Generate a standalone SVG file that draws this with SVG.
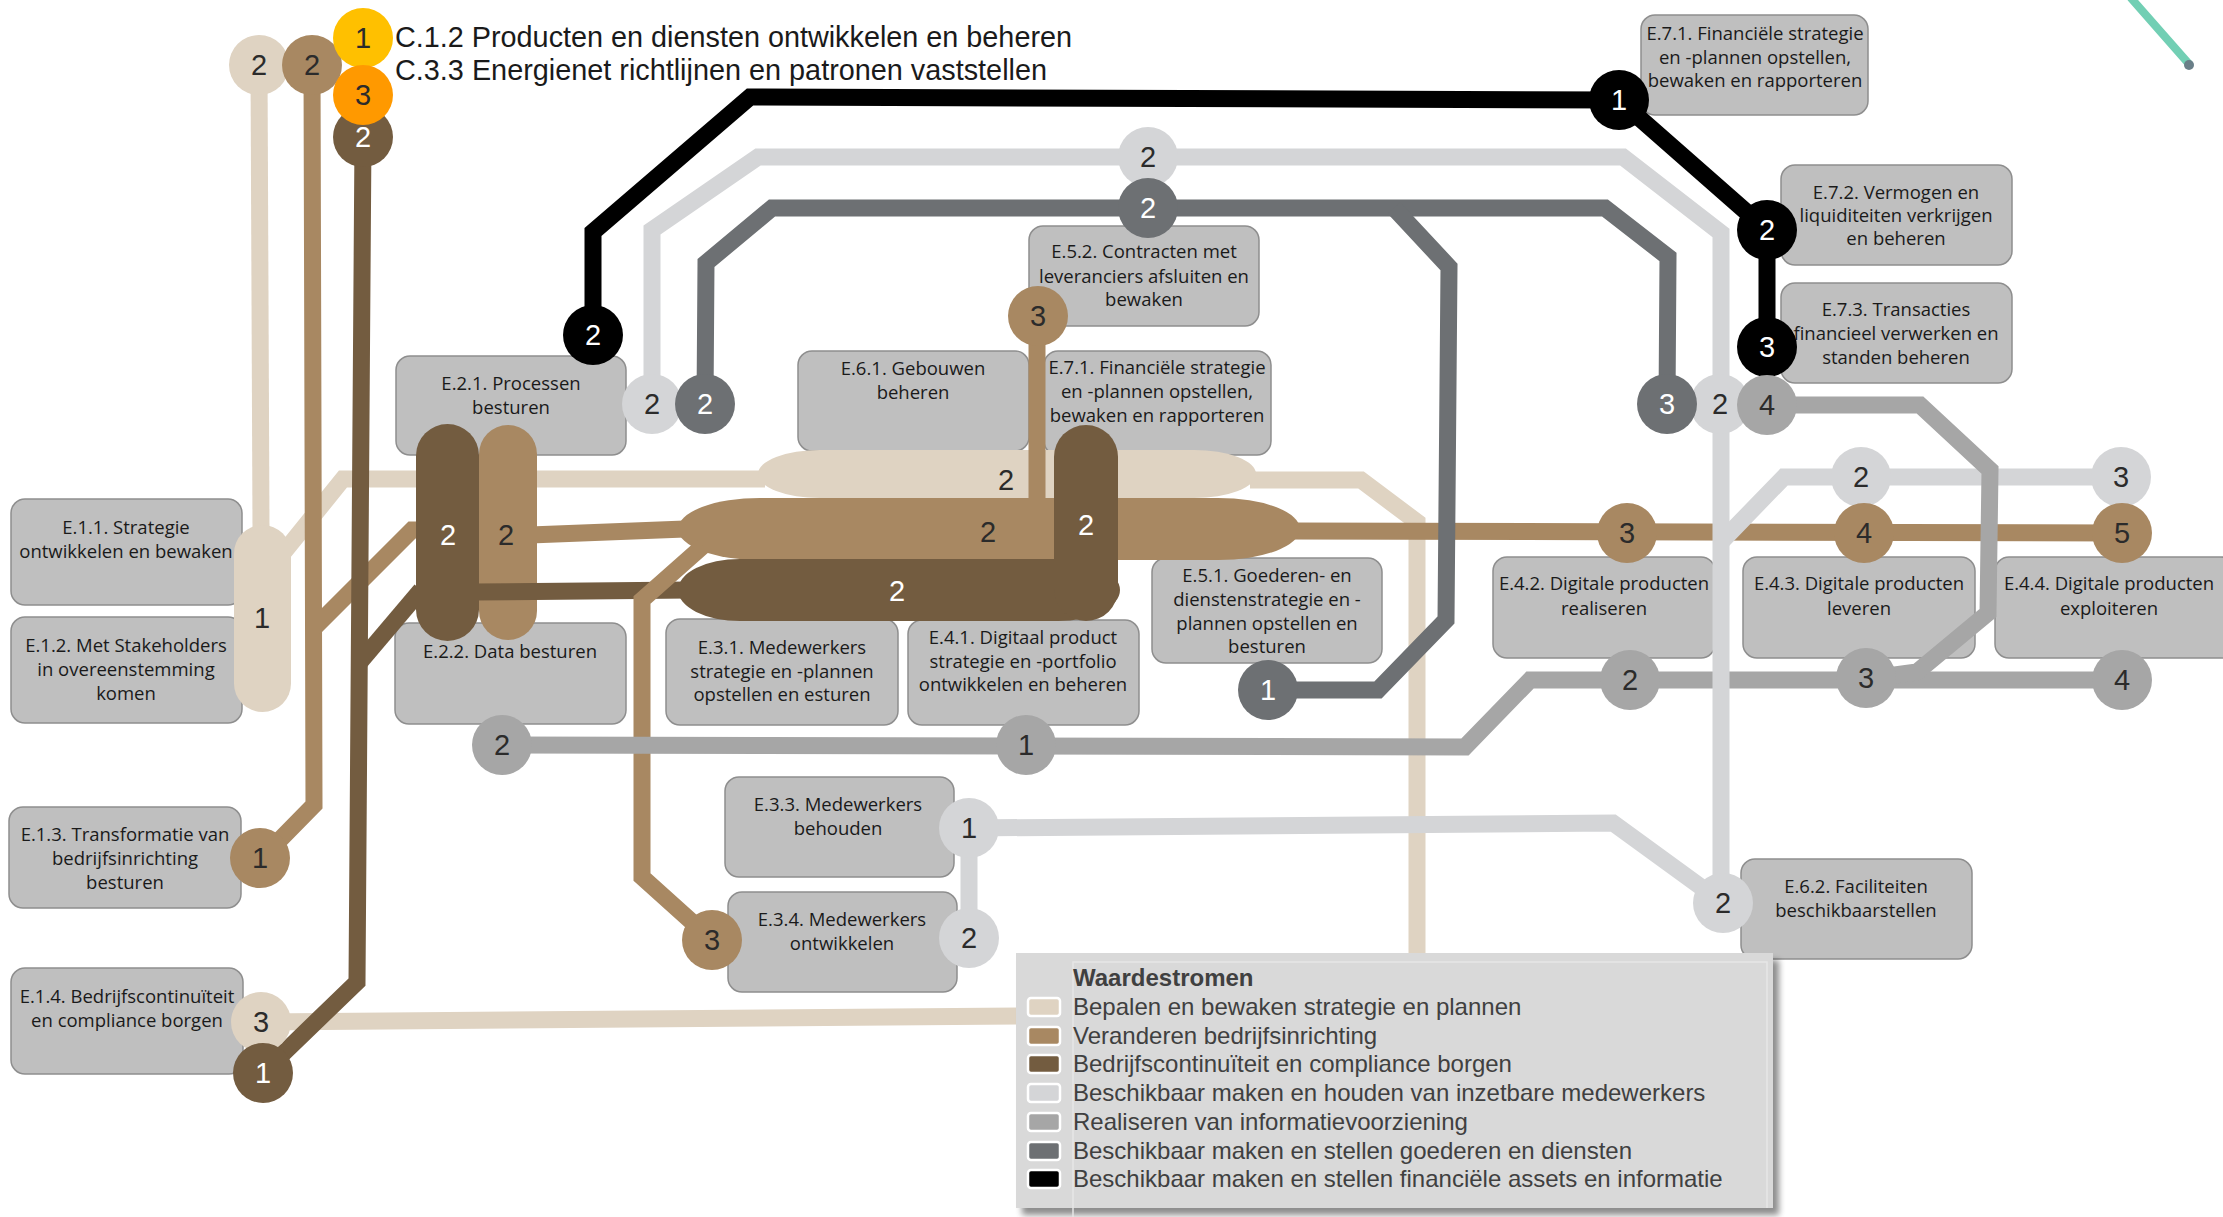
<svg xmlns="http://www.w3.org/2000/svg" width="2223" height="1217" viewBox="0 0 2223 1217">
  <style>
    .box { fill:#BFBFBF; stroke:#8E8E8E; stroke-width:1.5; }
    .lbl { font-family:"Open Sans","Liberation Sans",sans-serif; font-size:18.5px; fill:#1A1A1A; text-anchor:middle; }
    .ln { fill:none; stroke-width:17; stroke-linejoin:miter; stroke-miterlimit:4; stroke-linecap:butt; }
    .beige { stroke:#DFD3C2; } .tan { stroke:#A88862; } .brown { stroke:#735C40; }
    .lgray { stroke:#D4D5D7; } .mgray { stroke:#A6A6A6; } .dgray { stroke:#6D7073; } .black { stroke:#000000; }
    .f-beige { fill:#DFD3C2; } .f-tan { fill:#A88862; } .f-brown { fill:#735C40; }
    .f-lgray { fill:#D4D5D7; } .f-mgray { fill:#A6A6A6; } .f-dgray { fill:#6D7073; } .f-black { fill:#000000; }
    .f-yellow { fill:#FFC000; } .f-orange { fill:#FF9900; }
    .num { font-family:"Liberation Sans",Arial,sans-serif; font-size:29px; text-anchor:middle; fill:#2B2B2B; }
    .num.w { fill:#FFFFFF; }
    .title { font-family:"Liberation Sans",Arial,sans-serif; font-size:29px; fill:#1A1A1A; }
    .leg { font-family:"Liberation Sans",Arial,sans-serif; font-size:24px; fill:#404040; }
    .sw { stroke:#FFFFFF; stroke-width:2.5; }
  </style>
  <defs>
    <filter id="shadow" x="-5%" y="-5%" width="115%" height="120%">
      <feGaussianBlur in="SourceAlpha" stdDeviation="3"/>
      <feOffset dx="6" dy="7" result="b"/>
      <feComponentTransfer><feFuncA type="linear" slope="0.45"/></feComponentTransfer>
      <feMerge><feMergeNode/><feMergeNode in="SourceGraphic"/></feMerge>
    </filter>
  </defs>

  <rect width="2223" height="1217" fill="#FFFFFF"/>

  <!-- heading -->
  <g id="heading">
    <text class="title" x="395" y="47" textLength="677" lengthAdjust="spacingAndGlyphs">C.1.2 Producten en diensten ontwikkelen en beheren</text>
    <text class="title" x="395" y="80" textLength="652" lengthAdjust="spacingAndGlyphs">C.3.3 Energienet richtlijnen en patronen vaststellen</text>
  </g>

  <!-- teal stroke in the corner -->
  <g id="corner-mark">
    <line x1="2131" y1="-2" x2="2189" y2="64" stroke="#72CFB4" stroke-width="8" stroke-linecap="round"/>
    <circle cx="2189" cy="65" r="5" fill="#6A7F88"/>
  </g>

  <!-- process boxes -->
  <g id="E11"><rect class="box" x="11" y="499" width="231" height="106" rx="14"/>
    <text class="lbl" x="126" y="534">E.1.1. Strategie</text><text class="lbl" x="126" y="558">ontwikkelen en bewaken</text></g>
  <g id="E12"><rect class="box" x="11" y="617" width="231" height="106" rx="14"/>
    <text class="lbl" x="126" y="652">E.1.2. Met Stakeholders</text><text class="lbl" x="126" y="676">in overeenstemming</text><text class="lbl" x="126" y="700">komen</text></g>
  <g id="E13"><rect class="box" x="9" y="807" width="232" height="101" rx="14"/>
    <text class="lbl" x="125" y="841">E.1.3. Transformatie van</text><text class="lbl" x="125" y="865">bedrijfsinrichting</text><text class="lbl" x="125" y="889">besturen</text></g>
  <g id="E14"><rect class="box" x="11" y="968" width="232" height="106" rx="14"/>
    <text class="lbl" x="127" y="1003">E.1.4. Bedrijfscontinuïteit</text><text class="lbl" x="127" y="1027">en compliance borgen</text></g>
  <g id="E21"><rect class="box" x="396" y="356" width="230" height="99" rx="14"/>
    <text class="lbl" x="511" y="390">E.2.1. Processen</text><text class="lbl" x="511" y="414">besturen</text></g>
  <g id="E22"><rect class="box" x="395" y="623" width="231" height="101" rx="14"/>
    <text class="lbl" x="510" y="658">E.2.2. Data besturen</text></g>
  <g id="E31"><rect class="box" x="666" y="619" width="232" height="106" rx="14"/>
    <text class="lbl" x="782" y="654">E.3.1. Medewerkers</text><text class="lbl" x="782" y="678">strategie en -plannen</text><text class="lbl" x="782" y="701">opstellen en esturen</text></g>
  <g id="E41"><rect class="box" x="908" y="620" width="231" height="105" rx="14"/>
    <text class="lbl" x="1023" y="644">E.4.1. Digitaal product</text><text class="lbl" x="1023" y="668">strategie en -portfolio</text><text class="lbl" x="1023" y="691">ontwikkelen en beheren</text></g>
  <g id="E33"><rect class="box" x="725" y="777" width="229" height="100" rx="14"/>
    <text class="lbl" x="838" y="811">E.3.3. Medewerkers</text><text class="lbl" x="838" y="835">behouden</text></g>
  <g id="E34"><rect class="box" x="728" y="892" width="229" height="100" rx="14"/>
    <text class="lbl" x="842" y="926">E.3.4. Medewerkers</text><text class="lbl" x="842" y="950">ontwikkelen</text></g>
  <g id="E51"><rect class="box" x="1152" y="558" width="230" height="105" rx="14"/>
    <text class="lbl" x="1267" y="582">E.5.1. Goederen- en</text><text class="lbl" x="1267" y="606">dienstenstrategie en -</text><text class="lbl" x="1267" y="630">plannen opstellen en</text><text class="lbl" x="1267" y="653">besturen</text></g>
  <g id="E52"><rect class="box" x="1029" y="226" width="230" height="100" rx="14"/>
    <text class="lbl" x="1144" y="258">E.5.2. Contracten met</text><text class="lbl" x="1144" y="283">leveranciers afsluiten en</text><text class="lbl" x="1144" y="306">bewaken</text></g>
  <g id="E61"><rect class="box" x="798" y="351" width="231" height="100" rx="14"/>
    <text class="lbl" x="913" y="375">E.6.1. Gebouwen</text><text class="lbl" x="913" y="399">beheren</text></g>
  <g id="E71b"><rect class="box" x="1044" y="351" width="227" height="104" rx="14"/>
    <text class="lbl" x="1157" y="374">E.7.1. Financiële strategie</text><text class="lbl" x="1157" y="398">en -plannen opstellen,</text><text class="lbl" x="1157" y="422">bewaken en rapporteren</text></g>
  <g id="E71"><rect class="box" x="1641" y="15" width="227" height="100" rx="14"/>
    <text class="lbl" x="1755" y="40">E.7.1. Financiële strategie</text><text class="lbl" x="1755" y="64">en -plannen opstellen,</text><text class="lbl" x="1755" y="87">bewaken en rapporteren</text></g>
  <g id="E72"><rect class="box" x="1781" y="165" width="231" height="100" rx="14"/>
    <text class="lbl" x="1896" y="199">E.7.2. Vermogen en</text><text class="lbl" x="1896" y="222">liquiditeiten verkrijgen</text><text class="lbl" x="1896" y="245">en beheren</text></g>
  <g id="E73"><rect class="box" x="1781" y="283" width="231" height="100" rx="14"/>
    <text class="lbl" x="1896" y="316">E.7.3. Transacties</text><text class="lbl" x="1896" y="340">financieel verwerken en</text><text class="lbl" x="1896" y="364">standen beheren</text></g>
  <g id="E42"><rect class="box" x="1493" y="557" width="222" height="101" rx="14"/>
    <text class="lbl" x="1604" y="590">E.4.2. Digitale producten</text><text class="lbl" x="1604" y="615">realiseren</text></g>
  <g id="E43"><rect class="box" x="1743" y="557" width="232" height="101" rx="14"/>
    <text class="lbl" x="1859" y="590">E.4.3. Digitale producten</text><text class="lbl" x="1859" y="615">leveren</text></g>
  <g id="E44"><rect class="box" x="1995" y="557" width="240" height="101" rx="14"/>
    <text class="lbl" x="2109" y="590">E.4.4. Digitale producten</text><text class="lbl" x="2109" y="615">exploiteren</text></g>
  <g id="E62"><rect class="box" x="1741" y="859" width="231" height="100" rx="14"/>
    <text class="lbl" x="1856" y="893">E.6.2. Faciliteiten</text><text class="lbl" x="1856" y="917">beschikbaarstellen</text></g>

  <!-- value stream lines -->
  <g id="connectors">
    <!-- Bepalen en bewaken strategie en plannen -->
    <path class="ln beige" d="M259,65 L261,530"/>
    <path class="ln beige" d="M284,552 L343,479 L765,479"/>
    <path class="ln beige" d="M1250,480 L1361,480 L1417,522 L1417,955"/>
    <path class="ln beige" d="M261,1022 L1020,1016"/>
    <rect class="f-beige" x="758" y="450" width="498" height="48" rx="62" ry="24"/>
    <!-- Veranderen bedrijfsinrichting -->
    <path class="ln tan" d="M312,65 L314,805 L262,858"/>
    <path class="ln tan" d="M314,628 L412,530 L485,530"/>
    <path class="ln tan" d="M530,535 L685,529"/>
    <path class="ln tan" d="M1037,316 L1037,502"/>
    <path class="ln tan" d="M1290,531 L2122,533"/>
    <rect class="f-tan" x="678" y="498" width="622" height="62" rx="82" ry="31"/>
    <rect class="f-tan" x="479" y="425" width="58" height="215" rx="29"/>
    <!-- Bedrijfscontinuiteit en compliance borgen -->
    <path class="ln brown" d="M363,137 L357,982 L263,1073"/>
    <path class="ln brown" d="M360,662 L421,590"/>
    <path class="ln brown" d="M475,592 L690,590"/>
    <rect class="f-brown" x="678" y="559" width="442" height="62" rx="62" ry="31"/>
    <rect class="f-brown" x="1054" y="425" width="64" height="196" rx="32"/>
    <rect class="f-brown" x="416" y="424" width="63" height="217" rx="31.5"/>
    <path class="ln tan" d="M703,546 L642,600 L642,877 L712,940"/>
    <!-- Beschikbaar maken en houden van inzetbare medewerkers (branches) -->
    <path class="ln lgray" d="M1721,542 L1784,477 L2121,477"/>
    <path class="ln lgray" d="M969,828 L1613,823 L1723,903"/>
    <path class="ln lgray" d="M969,828 L969,938"/>
    <!-- Realiseren van informatievoorziening -->
    <path class="ln mgray" d="M502,745 L1465,747 L1530,680 L2122,680"/>
    <path class="ln mgray" d="M1767,405 L1920,405 L1990,470 L1988,613 L1917,672 L1880,677"/>
    <!-- Beschikbaar maken en houden van inzetbare medewerkers (main) -->
    <path class="ln lgray" d="M652,404 L652,230 L758,157 L1623,157 L1721,233 L1721,903"/>
    <!-- Beschikbaar maken en stellen goederen en diensten -->
    <path class="ln dgray" d="M705,404 L706,263 L772,208 L1605,208 L1668,257 L1667,404"/>
    <path class="ln dgray" d="M1394,208 L1449,267 L1446,620 L1378,690 L1268,690"/>
    <!-- Beschikbaar maken en stellen financiele assets en informatie -->
    <path class="ln black" stroke-width="18" d="M593,335 L593,232 L750,97 L1619,100 L1767,230 L1767,347"/>
  </g>

  <!-- stations -->
  <g id="stops">
    <g id="s-beige-top"><circle class="f-beige" cx="259" cy="65" r="30"/><text class="num" x="259" y="75">2</text></g>
    <g id="s-tan-top"><circle class="f-tan" cx="312" cy="65" r="30"/><text class="num" x="312" y="75">2</text></g>
    <g id="s-brown-top"><circle class="f-brown" cx="363" cy="137" r="30"/><text class="num w" x="363" y="147">2</text></g>
    <g id="s-c12"><circle class="f-yellow" cx="363" cy="38" r="30"/><text class="num" x="363" y="48">1</text></g>
    <g id="s-c33"><circle class="f-orange" cx="363" cy="95" r="30"/><text class="num" x="363" y="105">3</text></g>

    <g id="s-e11"><rect class="f-beige" x="234" y="525" width="57" height="187" rx="28.5"/><text class="num" x="262" y="628">1</text></g>
    <g id="s-e22-brown"><text class="num w" x="448" y="545">2</text></g>
    <g id="s-e22-tan"><text class="num" x="506" y="545">2</text></g>
    <g id="s-e61"><text class="num" x="1006" y="490">2</text></g>
    <g id="s-e31"><text class="num" x="988" y="542">2</text></g>
    <g id="s-e41"><text class="num w" x="897" y="601">2</text></g>
    <g id="s-e71b"><text class="num w" x="1086" y="535">2</text></g>

    <g id="s-e21-black"><circle class="f-black" cx="593" cy="335" r="30"/><text class="num w" x="593" y="345">2</text></g>
    <g id="s-e21-lgray"><circle class="f-lgray" cx="652" cy="404" r="30"/><text class="num" x="652" y="414">2</text></g>
    <g id="s-e21-dgray"><circle class="f-dgray" cx="705" cy="404" r="30"/><text class="num w" x="705" y="414">2</text></g>
    <g id="s-e52-tan"><circle class="f-tan" cx="1038" cy="316" r="30"/><text class="num" x="1038" y="326">3</text></g>
    <g id="s-e52-lgray"><circle class="f-lgray" cx="1148" cy="157" r="30"/><text class="num" x="1148" y="167">2</text></g>
    <g id="s-e52-dgray"><circle class="f-dgray" cx="1148" cy="208" r="30"/><text class="num w" x="1148" y="218">2</text></g>
    <g id="s-e71-black"><circle class="f-black" cx="1619" cy="100" r="30"/><text class="num w" x="1619" y="110">1</text></g>
    <g id="s-e72-black"><circle class="f-black" cx="1767" cy="230" r="30"/><text class="num w" x="1767" y="240">2</text></g>
    <g id="s-e73-black"><circle class="f-black" cx="1767" cy="347" r="30"/><text class="num w" x="1767" y="357">3</text></g>
    <g id="s-e73-lgray"><circle class="f-lgray" cx="1720" cy="404" r="30"/><text class="num" x="1720" y="414">2</text></g>
    <g id="s-e73-dgray"><circle class="f-dgray" cx="1667" cy="404" r="30"/><text class="num w" x="1667" y="414">3</text></g>
    <g id="s-e73-mgray"><circle class="f-mgray" cx="1767" cy="405" r="30"/><text class="num" x="1767" y="415">4</text></g>

    <g id="s-e43-lgray"><circle class="f-lgray" cx="1861" cy="477" r="30"/><text class="num" x="1861" y="487">2</text></g>
    <g id="s-e44-lgray"><circle class="f-lgray" cx="2121" cy="477" r="30"/><text class="num" x="2121" y="487">3</text></g>
    <g id="s-e42-tan"><circle class="f-tan" cx="1627" cy="533" r="30"/><text class="num" x="1627" y="543">3</text></g>
    <g id="s-e43-tan"><circle class="f-tan" cx="1864" cy="533" r="30"/><text class="num" x="1864" y="543">4</text></g>
    <g id="s-e44-tan"><circle class="f-tan" cx="2122" cy="533" r="30"/><text class="num" x="2122" y="543">5</text></g>
    <g id="s-e42-mgray"><circle class="f-mgray" cx="1630" cy="680" r="30"/><text class="num" x="1630" y="690">2</text></g>
    <g id="s-e43-mgray"><circle class="f-mgray" cx="1866" cy="678" r="30"/><text class="num" x="1866" y="688">3</text></g>
    <g id="s-e44-mgray"><circle class="f-mgray" cx="2122" cy="680" r="30"/><text class="num" x="2122" y="690">4</text></g>
    <g id="s-e51-dgray"><circle class="f-dgray" cx="1268" cy="690" r="30"/><text class="num w" x="1268" y="700">1</text></g>

    <g id="s-e22-mgray"><circle class="f-mgray" cx="502" cy="745" r="30"/><text class="num" x="502" y="755">2</text></g>
    <g id="s-e41-mgray"><circle class="f-mgray" cx="1026" cy="745" r="30"/><text class="num" x="1026" y="755">1</text></g>
    <g id="s-e33-lgray"><circle class="f-lgray" cx="969" cy="828" r="30"/><text class="num" x="969" y="838">1</text></g>
    <g id="s-e34-lgray"><circle class="f-lgray" cx="969" cy="938" r="30"/><text class="num" x="969" y="948">2</text></g>
    <g id="s-e34-tan"><circle class="f-tan" cx="712" cy="940" r="30"/><text class="num" x="712" y="950">3</text></g>
    <g id="s-e62-lgray"><circle class="f-lgray" cx="1723" cy="903" r="30"/><text class="num" x="1723" y="913">2</text></g>
    <g id="s-e13-tan"><circle class="f-tan" cx="260" cy="858" r="30"/><text class="num" x="260" y="868">1</text></g>
    <g id="s-e14-beige"><circle class="f-beige" cx="261" cy="1022" r="30"/><text class="num" x="261" y="1032">3</text></g>
    <g id="s-e14-brown"><circle class="f-brown" cx="263" cy="1073" r="30"/><text class="num w" x="263" y="1083">1</text></g>
  </g>

  <!-- legend -->
  <g id="legend">
    <rect x="1016" y="953" width="757" height="255" fill="#D9D9D9" filter="url(#shadow)"/>
    <path d="M1073,1217 L1073,962 L1767,962 L1767,1208" fill="none" stroke="#E6E6E6" stroke-width="1.5"/>
    <text class="leg" x="1073" y="986" font-weight="bold">Waardestromen</text>
    <rect class="sw f-beige" x="1028" y="998" width="32" height="18" rx="3"/>
    <text class="leg" x="1073" y="1015">Bepalen en bewaken strategie en plannen</text>
    <rect class="sw f-tan" x="1028" y="1027" width="32" height="18" rx="3"/>
    <text class="leg" x="1073" y="1044">Veranderen bedrijfsinrichting</text>
    <rect class="sw f-brown" x="1028" y="1055" width="32" height="18" rx="3"/>
    <text class="leg" x="1073" y="1072">Bedrijfscontinuïteit en compliance borgen</text>
    <rect class="sw f-lgray" x="1028" y="1084" width="32" height="18" rx="3"/>
    <text class="leg" x="1073" y="1101">Beschikbaar maken en houden van inzetbare medewerkers</text>
    <rect class="sw f-mgray" x="1028" y="1113" width="32" height="18" rx="3"/>
    <text class="leg" x="1073" y="1130">Realiseren van informatievoorziening</text>
    <rect class="sw f-dgray" x="1028" y="1142" width="32" height="18" rx="3"/>
    <text class="leg" x="1073" y="1159">Beschikbaar maken en stellen goederen en diensten</text>
    <rect class="sw f-black" x="1028" y="1170" width="32" height="18" rx="3"/>
    <text class="leg" x="1073" y="1187">Beschikbaar maken en stellen financiële assets en informatie</text>
  </g>
</svg>
